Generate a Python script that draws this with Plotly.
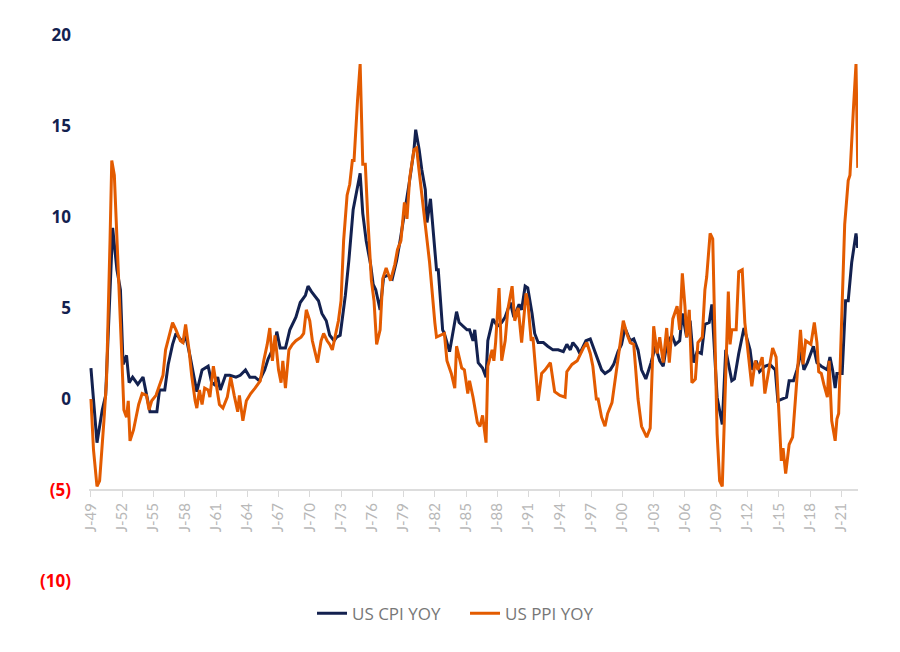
import plotly.graph_objects as go

cpi_dates = ["1949-01","1949-08","1950-02","1950-06","1951-02","1951-07","1951-11","1952-02","1952-06","1952-09",
"1953-01","1953-07","1954-01","1954-06","1954-09","1955-05","1955-08","1956-02","1956-06","1956-11",
"1957-03","1957-11","1958-02","1958-07","1959-01","1959-03","1959-09","1960-04","1960-08","1960-11",
"1961-03","1961-06","1961-12","1962-05","1962-12","1963-05","1963-11","1964-04","1964-10","1965-03",
"1965-09","1966-01","1966-06","1966-09","1966-11","1967-03","1967-09","1968-02","1968-09","1969-02",
"1969-08","1969-11","1970-03","1970-11","1971-03","1971-08","1971-12","1972-05","1972-08","1972-12",
"1973-06","1973-10","1974-03","1974-07","1974-11","1975-02","1975-06","1975-11","1976-02","1976-05",
"1976-10","1977-02","1977-07","1977-12","1978-05","1978-09","1979-03","1979-08","1980-01","1980-03",
"1980-07","1980-10","1981-02","1981-04","1981-08","1981-12","1982-03","1982-05","1982-10","1982-12",
"1983-06","1984-02","1984-05","1985-02","1985-05","1985-09","1985-11","1986-03","1986-08","1986-12",
"1987-02","1987-08","1988-01","1988-06","1988-10","1989-04","1989-08","1990-02","1990-05","1990-09",
"1990-12","1991-05","1991-08","1991-12","1992-06","1992-11","1993-05","1993-11","1994-05","1994-09",
"1995-01","1995-04","1995-09","1995-12","1996-07","1996-12","1997-04","1997-09","1998-01","1998-05",
"1998-11","1999-03","1999-08","1999-12","2000-04","2000-10","2001-02","2001-07","2001-11","2002-04",
"2002-10","2003-03","2003-08","2003-12","2004-04","2004-10","2005-02","2005-07","2005-10","2006-03",
"2006-07","2006-11","2007-03","2007-08","2007-12","2008-05","2008-08","2009-02","2009-08","2009-12",
"2010-07","2010-10","2011-03","2011-09","2012-04","2012-07","2012-11","2013-03","2013-09","2014-03",
"2014-09","2014-12","2015-06","2015-10","2016-01","2016-06","2016-10","2017-03","2017-06","2017-10",
"2018-05","2018-09","2019-02","2019-09","2019-12","2020-03","2020-06","2020-08","2021-02","2021-06",
"2021-09","2022-01","2022-06","2022-08"]
cpi_values = [1.7,-2.4,-0.6,0.2,9.4,7.1,6.0,1.9,2.4,0.9,
1.2,0.8,1.2,0.1,-0.7,-0.7,0.5,0.5,1.9,3.0,
3.6,3.1,3.5,2.4,0.8,0.4,1.6,1.8,0.9,0.8,
1.2,0.5,1.3,1.3,1.2,1.3,1.6,1.2,1.2,1.0,
1.6,2.2,2.7,3.0,3.7,2.8,2.8,3.8,4.5,5.3,
5.7,6.2,5.9,5.4,4.7,4.3,3.5,3.2,3.4,3.5,
5.7,7.6,10.4,11.5,12.4,10.2,8.7,7.4,6.3,6.0,
4.9,6.7,6.8,6.6,7.6,8.7,10.4,12.0,13.7,14.8,
13.7,12.6,11.5,9.7,11.0,8.7,7.1,7.1,3.8,3.6,
2.6,4.8,4.2,3.8,3.8,3.2,3.8,2.0,1.7,1.2,
3.2,4.4,4.0,4.2,4.5,5.3,4.5,5.2,4.9,6.2,
6.1,4.7,3.6,3.1,3.1,2.9,2.7,2.7,2.6,3.0,
2.7,3.1,2.8,2.5,3.2,3.3,2.8,2.1,1.6,1.4,
1.6,1.9,2.6,3.0,3.9,3.2,3.3,2.7,1.6,1.1,
2.0,2.9,2.1,1.8,3.0,3.5,3.0,3.2,4.7,3.4,
4.3,2.0,2.6,2.5,4.1,4.2,5.2,0.1,-1.4,2.7,
1.0,1.1,2.5,3.9,2.7,1.6,2.1,1.5,1.8,1.9,
1.6,-0.1,0.0,0.1,1.0,1.0,1.6,2.6,1.6,2.0,
2.9,2.0,1.8,1.6,2.3,1.6,0.6,1.4,1.4,5.4,
5.4,7.5,9.1,8.3]

ppi_dates = ["1949-01","1949-04","1949-08","1949-11","1950-04","1950-07","1950-11","1951-01","1951-04","1951-08",
"1951-12","1952-03","1952-06","1952-08","1952-10","1953-02","1953-05","1953-08","1953-12","1954-05",
"1954-08","1954-11","1955-04","1955-08","1955-12","1956-03","1956-07","1956-11","1957-03","1957-08",
"1957-11","1958-02","1958-06","1958-09","1959-01","1959-03","1959-06","1959-09","1959-12","1960-04",
"1960-06","1960-10","1961-05","1961-09","1962-02","1962-06","1962-10","1963-02","1963-04","1963-08",
"1963-12","1964-05","1964-10","1965-01","1965-04","1965-08","1965-12","1966-03","1966-06","1966-09",
"1967-01","1967-04","1967-06","1967-09","1968-01","1968-05","1968-09","1969-03","1969-06","1969-09",
"1970-01","1970-04","1970-08","1970-10","1971-02","1971-05","1971-09","1971-12","1972-03","1972-07",
"1972-10","1973-01","1973-04","1973-08","1973-11","1974-02","1974-04","1974-08","1974-11","1975-02",
"1975-05","1975-08","1975-12","1976-03","1976-06","1976-10","1977-01","1977-05","1977-10","1978-03",
"1978-06","1978-10","1979-02","1979-05","1979-08","1980-01","1980-04","1980-07","1980-11","1981-03",
"1981-07","1982-01","1982-03","1982-12","1983-03","1983-08","1983-12","1984-02","1984-08","1984-11",
"1985-03","1985-05","1985-09","1986-02","1986-05","1986-08","1986-12","1987-02","1987-07","1987-09",
"1987-11","1988-03","1988-06","1988-10","1989-01","1989-06","1989-09","1990-01","1990-05","1990-10",
"1990-12","1991-04","1991-06","1991-12","1992-04","1992-08","1993-02","1993-07","1994-01","1994-07",
"1994-09","1995-03","1995-09","1995-12","1996-04","1996-08","1996-12","1997-03","1997-07","1997-09",
"1998-01","1998-05","1998-08","1999-01","1999-07","1999-10","2000-02","2000-06","2000-10","2001-02",
"2001-07","2001-11","2002-05","2002-09","2003-01","2003-05","2003-08","2003-12","2004-04","2004-07",
"2004-11","2005-04","2005-07","2005-10","2006-01","2006-03","2006-06","2006-09","2007-01","2007-04",
"2007-09","2007-12","2008-02","2008-06","2008-09","2009-02","2009-05","2009-08","2009-11","2010-03",
"2010-05","2010-07","2010-12","2011-03","2011-07","2011-10","2012-06","2012-10","2013-01","2013-06",
"2013-09","2014-01","2014-06","2014-10","2015-02","2015-04","2015-06","2015-09","2016-01","2016-05",
"2016-09","2017-02","2017-05","2017-08","2017-11","2018-02","2018-06","2018-09","2018-11","2019-02",
"2019-05","2019-09","2019-11","2020-02","2020-06","2020-08","2020-10","2021-02","2021-05","2021-09",
"2021-11","2022-03","2022-06","2022-08"]
ppi_values = [0.0,-2.8,-4.8,-4.5,-1.2,1.0,8.7,13.1,12.3,7.1,
3.0,-0.6,-1.0,-0.1,-2.3,-1.7,-0.9,-0.3,0.3,0.2,
-0.6,-0.1,0.2,0.8,1.3,2.7,3.4,4.2,3.8,3.2,
3.1,4.1,2.7,1.3,-0.1,-0.5,0.5,-0.3,0.6,0.5,
0.1,1.8,-0.3,-0.5,0.1,1.2,0.2,-0.7,0.2,-1.2,
-0.1,0.3,0.6,0.8,1.0,2.1,3.0,3.9,2.1,3.5,
1.6,0.9,2.1,0.6,2.7,3.0,3.2,3.4,3.6,4.9,
4.3,3.2,2.4,2.0,3.2,3.6,3.2,3.0,2.7,3.7,
4.3,5.4,8.7,11.2,11.8,13.1,13.1,16.4,18.4,12.9,
12.9,9.8,6.5,5.4,3.0,3.8,6.6,7.2,6.5,7.4,
8.2,8.7,10.8,9.9,12.1,13.7,13.8,12.5,10.7,9.3,
7.5,4.2,3.4,3.6,2.1,1.4,0.6,2.9,1.7,1.6,
0.3,1.0,0.1,-1.3,-1.5,-0.9,-2.4,1.8,2.7,2.1,
3.1,6.1,2.1,3.2,4.9,6.2,4.3,5.0,3.1,5.8,
5.4,3.2,3.4,-0.1,1.4,1.6,2.0,0.4,0.2,0.1,
1.5,1.9,2.1,2.4,2.8,3.1,2.5,1.8,0.0,0.0,
-1.0,-1.5,-0.8,-0.2,1.8,3.1,4.3,3.6,3.1,3.0,
0.0,-1.5,-2.1,-1.6,4.0,2.5,3.4,2.0,3.9,2.0,
4.4,5.1,3.8,6.9,5.1,3.4,4.9,0.9,1.1,3.1,
3.4,6.0,6.7,9.1,8.8,-1.9,-4.5,-4.8,0.0,5.9,
3.0,3.8,3.8,7.0,7.1,4.2,0.7,2.1,1.6,2.3,
0.3,1.4,2.8,2.3,-2.1,-3.4,-2.7,-4.1,-2.5,-2.1,
0.5,3.8,1.9,3.2,3.1,3.0,4.2,3.1,1.5,1.4,
0.8,0.1,2.1,-1.2,-2.3,-1.1,-0.8,5.4,9.6,12.0,
12.3,15.9,18.4,12.7]

x_tick_vals = [f"{y}-01-01" for y in range(1949, 2022, 3)]
x_tick_text = [f"J-{str(y)[2:]}" for y in range(1949, 2022, 3)]
y_tick_vals = [-10, -5, 0, 5, 10, 15, 20]
y_tick_text = ['<span style="color:#ff0000">(10)</span>', '<span style="color:#ff0000">(5)</span>',
               "0", "5", "10", "15", "20"]

NAVY = "#13214f"
ORANGE = "#e35b00"

fig = go.Figure()
fig.add_trace(go.Scatter(x=cpi_dates, y=cpi_values, mode="lines", name="US CPI YOY",
                         line=dict(color=NAVY, width=3)))
fig.add_trace(go.Scatter(x=ppi_dates, y=ppi_values, mode="lines", name="US PPI YOY",
                         line=dict(color=ORANGE, width=3)))

fig.update_layout(
    width=892, height=644,
    margin=dict(l=81, r=42, t=27, b=71),
    paper_bgcolor="white", plot_bgcolor="white",
    showlegend=True,
    legend=dict(orientation="h", x=0.29, xanchor="left", y=-0.06, yanchor="middle",
                font=dict(family="Open Sans, sans-serif", size=17, color="#777777"),
                itemwidth=30, tracegroupgap=0, entrywidth=108, entrywidthmode="pixels"),
    xaxis=dict(type="date", range=["1948-10-25", "2022-08-10"],
               tickmode="array", tickvals=x_tick_vals, ticktext=x_tick_text,
               tickangle=-90, ticks="outside", ticklen=6, tickcolor="#d9d9d9", tickwidth=1,
               showline=True, linecolor="#dddddd", linewidth=2,
               showgrid=False, zeroline=False,
               anchor="free", position=5/30,
               tickfont=dict(family="Lato, Open Sans, sans-serif", size=15, color="#b8b8b8")),
    yaxis=dict(range=[-10, 20], tickmode="array", tickvals=y_tick_vals, ticktext=y_tick_text,
               showgrid=False, zeroline=False, showline=False, ticks="",
               ticklabelstandoff=17,
               tickfont=dict(family="Open Sans, sans-serif", size=17, color=NAVY, weight=700)),
)

fig.write_html("out.html")
